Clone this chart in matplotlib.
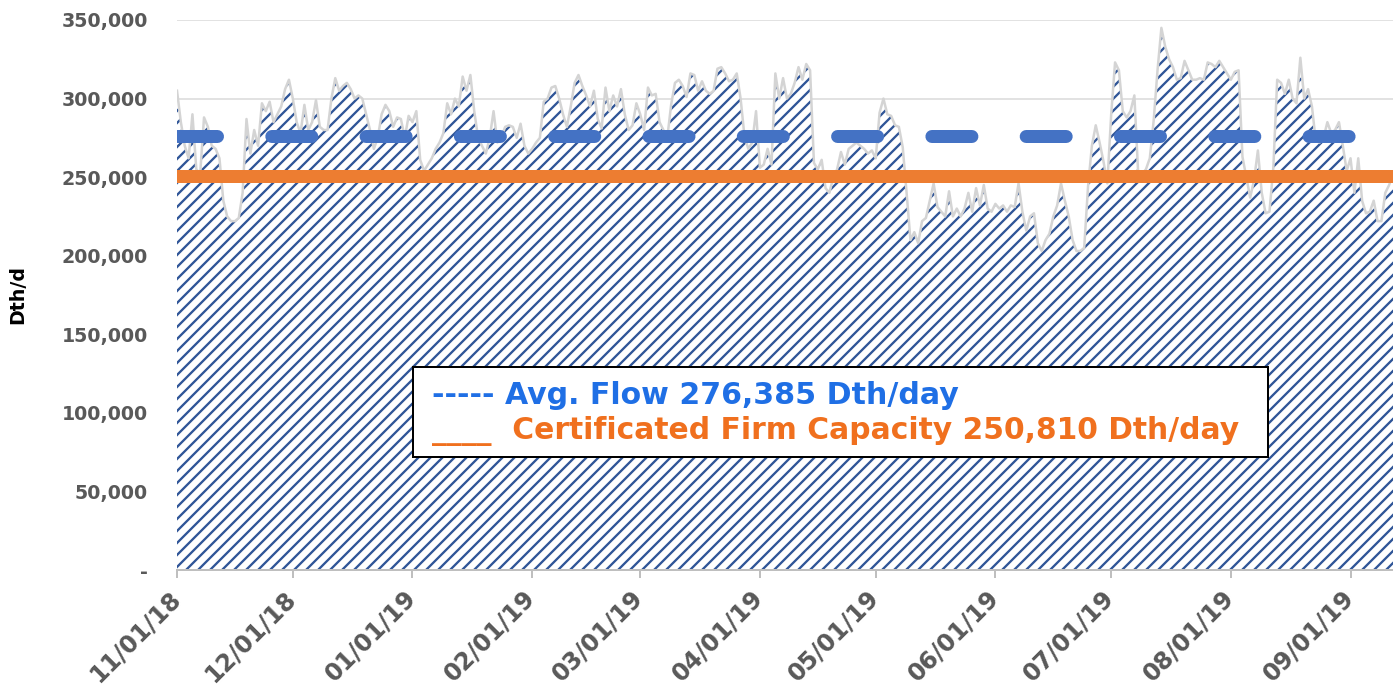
import matplotlib.pyplot as plt
import matplotlib.dates as mdates
from matplotlib.patches import Rectangle
from matplotlib.ticker import FuncFormatter
from matplotlib.transforms import ScaledTranslation
import pandas as pd

# at dpi 72 one point is one pixel, the hatch unit is 72 px
plt.rcParams['font.family'] = ['DejaVu Sans']
plt.rcParams['hatch.linewidth'] = 2.3
plt.rcParams['lines.scale_dashes'] = False

# daily flow, Dth/d
nov_18 = [305000, 285000, 270000, 262000, 290000, 255000, 252000, 288000, 282000, 270000,
          268000, 262000, 235000, 225000, 222000, 222000, 224000, 240000, 287000, 265000,
          280000, 270000, 297000, 292000, 298000, 285000, 290000, 295000, 306000, 312000]
dec_18 = [300000, 285000, 278000, 296000, 280000, 285000, 299000, 282000, 280000, 280000,
          300000, 313000, 305000, 308000, 310000, 306000, 300000, 302000, 300000, 290000,
          280000, 268000, 275000, 290000, 296000, 292000, 282000, 288000, 287000, 275000, 289000]
jan_19 = [285000, 292000, 261000, 254000, 258000, 262000, 268000, 272000, 278000, 297000,
          290000, 300000, 295000, 314000, 305000, 315000, 292000, 275000, 270000, 265000,
          275000, 292000, 272000, 275000, 282000, 283000, 282000, 275000, 284000, 270000, 265000]
feb_19 = [268000, 272000, 275000, 298000, 300000, 307000, 308000, 300000, 290000, 282000,
          295000, 310000, 315000, 308000, 302000, 295000, 305000, 287000, 281000, 307000,
          292000, 302000, 295000, 306000, 290000, 280000, 283000, 297000]
mar_19 = [290000, 280000, 307000, 302000, 303000, 285000, 280000, 275000, 296000, 310000,
          312000, 308000, 301000, 316000, 315000, 305000, 311000, 305000, 303000, 305000,
          319000, 320000, 316000, 311000, 312000, 316000, 300000, 276000, 268000, 272000, 292000]
apr_19 = [256000, 258000, 268000, 258000, 316000, 300000, 313000, 300000, 303000, 310000,
          320000, 312000, 322000, 318000, 259000, 255000, 261000, 243000, 240000, 250000,
          255000, 266000, 258000, 268000, 270000, 272000, 270000, 268000, 265000, 267000]
may_19 = [262000, 291000, 300000, 290000, 289000, 283000, 282000, 269000, 240000, 210000,
          215000, 208000, 222000, 224000, 235000, 246000, 231000, 228000, 225000, 241000,
          225000, 230000, 225000, 230000, 240000, 228000, 243000, 232000, 245000, 230000, 228000]
jun_19 = [233000, 230000, 232000, 228000, 232000, 231000, 246000, 228000, 216000, 225000,
          227000, 208000, 203000, 210000, 214000, 225000, 232000, 246000, 235000, 225000,
          210000, 203000, 203000, 205000, 244000, 270000, 283000, 272000, 260000, 246000]
jul_19 = [290000, 323000, 318000, 292000, 288000, 292000, 302000, 252000, 252000, 255000,
          262000, 286000, 318000, 345000, 333000, 325000, 320000, 312000, 313000, 324000,
          318000, 312000, 312000, 313000, 312000, 323000, 322000, 320000, 324000, 320000, 316000]
aug_19 = [312000, 317000, 318000, 263000, 250000, 237000, 248000, 267000, 240000, 227000,
          228000, 256000, 312000, 310000, 303000, 312000, 300000, 297000, 326000, 300000,
          306000, 295000, 273000, 272000, 275000, 285000, 278000, 280000, 285000, 270000, 254000]
sep_19 = [262000, 240000, 262000, 235000, 227000, 228000, 235000, 222000, 222000, 240000,
          245000, 252000]

avg_flow = 276385
firm_capacity = 250810

flow = nov_18 + dec_18 + jan_19 + feb_19 + mar_19 + apr_19 + may_19 + jun_19 + jul_19 + aug_19 + sep_19
dates = pd.date_range('2018-11-01', periods=len(flow), freq='D')
month_ticks = pd.date_range('2018-11-01', '2019-09-01', freq='MS')

W, H = 1393, 699
fig = plt.figure(figsize=(W / 72, H / 72), dpi=72)
ax = fig.add_axes([177 / W, 129 / H, 1216 / W, 550 / H])

# hatched area ('//' -> 12 px stripes) + soft grey rim on top like the excel shadow
ax.fill_between(dates, flow, 0, facecolor='white', edgecolor='#2F5597', hatch='//', linewidth=0, zorder=2)
ax.plot(dates, flow, color='#D4D4D4', lw=2.5, zorder=2.5)

ax.axhline(avg_flow, color='#4472C4', lw=13, dashes=(40, 54.3), dash_capstyle='round', zorder=3)
ax.axhline(firm_capacity, color='#ED7D31', lw=13, zorder=3)

ax.set_ylim(0, 350000)
ax.set_yticks(range(0, 350001, 50000))
ax.yaxis.set_major_formatter(FuncFormatter(lambda v, p: '-' if v == 0 else f'{v:,.0f}'))
ax.grid(axis='y', color='#D9D9D9', lw=1.5)
ax.set_axisbelow(True)

ax.set_xlim(dates[0], dates[-1])
ax.set_xticks(month_ticks)
ax.xaxis.set_major_formatter(mdates.DateFormatter('%m/%d/%y'))

for s in ['top', 'right', 'left']:
    ax.spines[s].set_visible(False)
ax.spines['bottom'].set_color('#BFBFBF')
ax.spines['bottom'].set_linewidth(2)
ax.spines['bottom'].set_zorder(4)

ax.tick_params(axis='x', direction='out', length=8, width=2, color='#BFBFBF', pad=8)
ax.tick_params(axis='y', length=0, pad=29)
shift = ScaledTranslation(-9 / 72, 0, fig.dpi_scale_trans)
for lbl in ax.get_xticklabels():
    lbl.set_rotation(45)
    lbl.set_ha('right')
    lbl.set_rotation_mode('anchor')
    lbl.set_fontsize(24)
    lbl.set_fontweight('bold')
    lbl.set_color('#595959')
    lbl.set_transform(lbl.get_transform() + shift)
for lbl in ax.get_yticklabels():
    lbl.set_fontsize(19)
    lbl.set_fontweight('bold')
    lbl.set_color('#595959')

ax.set_ylabel('Dth/d', fontsize=19, fontweight='bold', color='black')
ax.yaxis.set_label_coords((27 - 177) / 1216, 0.5)

# text box used as legend
fig.patches.append(Rectangle((413 / W, 1 - 457 / H), 855 / W, 90 / H, transform=fig.transFigure,
                             facecolor='white', edgecolor='black', lw=2, zorder=5))
fig.text(432 / W, 1 - 396 / H, '----- Avg. Flow 276,385 Dth/day', color='#1F6FE5',
         fontsize=30, fontweight='bold', va='center', ha='left', zorder=6)
fig.text(432 / W, 1 - 431 / H, '____  Certificated Firm Capacity 250,810 Dth/day', color='#F0701E',
         fontsize=29.8, fontweight='bold', va='center', ha='left', zorder=6)

fig.savefig('out.png', dpi=72)
